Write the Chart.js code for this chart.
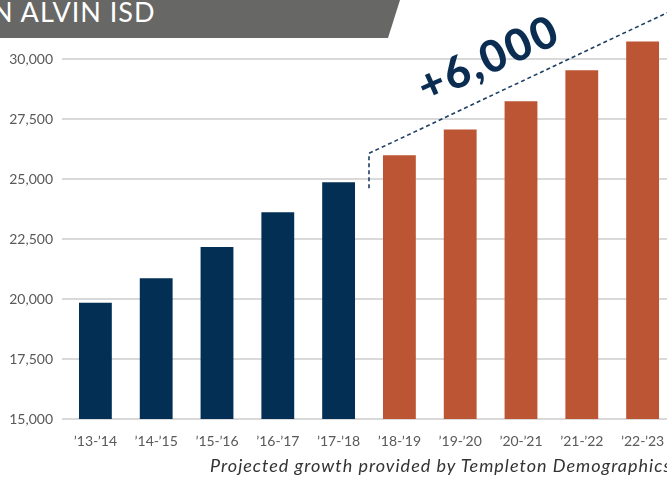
<!DOCTYPE html>
<html>
<head>
<meta charset="utf-8">
<script src="https://cdn.jsdelivr.net/npm/chart.js@4.4.0/dist/chart.umd.min.js"></script>
<style>
    html, body { margin: 0; padding: 0; background: #ffffff; overflow: hidden; }
    #wrap { position: relative; width: 667px; height: 477px; overflow: hidden; }
    #chart-box { position: absolute; left: 0; top: 0; width: 680px; height: 477px; }
    #banner {
        position: absolute; left: 0; top: 0; width: 400px; height: 38px;
        background: #676765;
        clip-path: polygon(0 0, 400px 0, 388px 38px, 0 38px);
    }
    #banner-text {
        position: absolute; left: -8px; top: -5px;
        font-family: "Lato", sans-serif; font-size: 27px; color: #ffffff;
        letter-spacing: 1px; white-space: nowrap;
    }
    #caption {
        position: absolute; left: 210px; top: 454px;
        font-family: "Lato", sans-serif; font-style: italic; font-size: 18px; color: #333333;
        letter-spacing: 1px; white-space: nowrap;
    }
</style>
</head>
<body>
<div id="wrap">
    <div id="chart-box"><canvas id="enrollment-chart"></canvas></div>
    <div id="banner"><div id="banner-text">N ALVIN ISD</div></div>
    <div id="caption">Projected growth provided by Templeton Demographics</div>
</div>
<script>
const schoolYears = ["’13-’14", "’14-’15", "’15-’16", "’16-’17", "’17-’18", "’18-’19", "’19-’20", "’20-’21", "’21-’22", "’22-’23"];
const actualEnrollment = [19850, 20875, 22175, 23625, 24875, null, null, null, null, null];
const projectedEnrollment = [null, null, null, null, null, 26000, 27075, 28250, 29550, 30750];
const yTickValues = [15000, 17500, 20000, 22500, 25000, 27500, 30000];
const growthLabel = "+6,000";

const chartCanvas = document.getElementById("enrollment-chart");

// dashed growth line + rotated label, placed with the chart's own scales
const growthAnnotation = {
    id: "growthAnnotation",
    afterDatasetsDraw(chart) {
        let ctx = chart.ctx;
        let x = chart.scales.x;
        let y = chart.scales.y;
        let startX = x.getPixelForValue(4.5);
        ctx.save();
        ctx.strokeStyle = "#1d3f63";
        ctx.lineWidth = 1.6;
        ctx.setLineDash([4, 3]);
        ctx.beginPath();
        ctx.moveTo(startX, y.getPixelForValue(24625));
        ctx.lineTo(startX, y.getPixelForValue(26080));
        ctx.lineTo(x.getPixelForValue(9.7), y.getPixelForValue(32300));
        ctx.stroke();
        ctx.setLineDash([]);
        ctx.translate(x.getPixelForValue(6.47), y.getPixelForValue(30000));
        ctx.rotate(-24 * Math.PI / 180);
        ctx.fillStyle = "#0b2d52";
        ctx.font = "900 44px Lato";
        ctx.letterSpacing = "2px";
        ctx.textAlign = "center";
        ctx.textBaseline = "middle";
        ctx.fillText(growthLabel, 0, 0);
        ctx.restore();
    }
};

new Chart(chartCanvas, {
    type: "bar",
    data: {
        labels: schoolYears,
        datasets: [{
            label: "Enrollment",
            data: actualEnrollment,
            backgroundColor: "#032f55"
        }, {
            label: "Projected",
            data: projectedEnrollment,
            backgroundColor: "#bc5533"
        }]
    },
    options: {
        responsive: true,
        maintainAspectRatio: false,
        animation: false,
        layout: { padding: { top: 11, right: 7, bottom: 0, left: 0 } },
        datasets: {
            bar: { grouped: false, categoryPercentage: 1, barPercentage: 0.54 }
        },
        plugins: {
            legend: { display: false },
            tooltip: { enabled: false }
        },
        scales: {
            x: {
                grid: { display: false, drawTicks: false },
                border: { display: false },
                ticks: {
                    color: "#595959",
                    font: { family: "Lato", size: 14 },
                    padding: 14,
                    maxRotation: 0,
                    autoSkip: false
                },
                afterFit: function(axis) { axis.height = 58; }
            },
            y: {
                min: 15000,
                max: 31750,
                border: { display: false },
                grid: { color: "#d9d9d9", lineWidth: 2, tickLength: 3, tickColor: "#d9d9d9" },
                ticks: {
                    color: "#595959",
                    font: { family: "Lato", size: 14 },
                    padding: 9,
                    callback: function(value) { return value.toLocaleString("en-US"); }
                },
                afterBuildTicks: function(axis) {
                    axis.ticks = yTickValues.map(function(v) { return { value: v }; });
                },
                afterFit: function(axis) { axis.width = 65; }
            }
        }
    },
    plugins: [growthAnnotation]
});
</script>
</body>
</html>
